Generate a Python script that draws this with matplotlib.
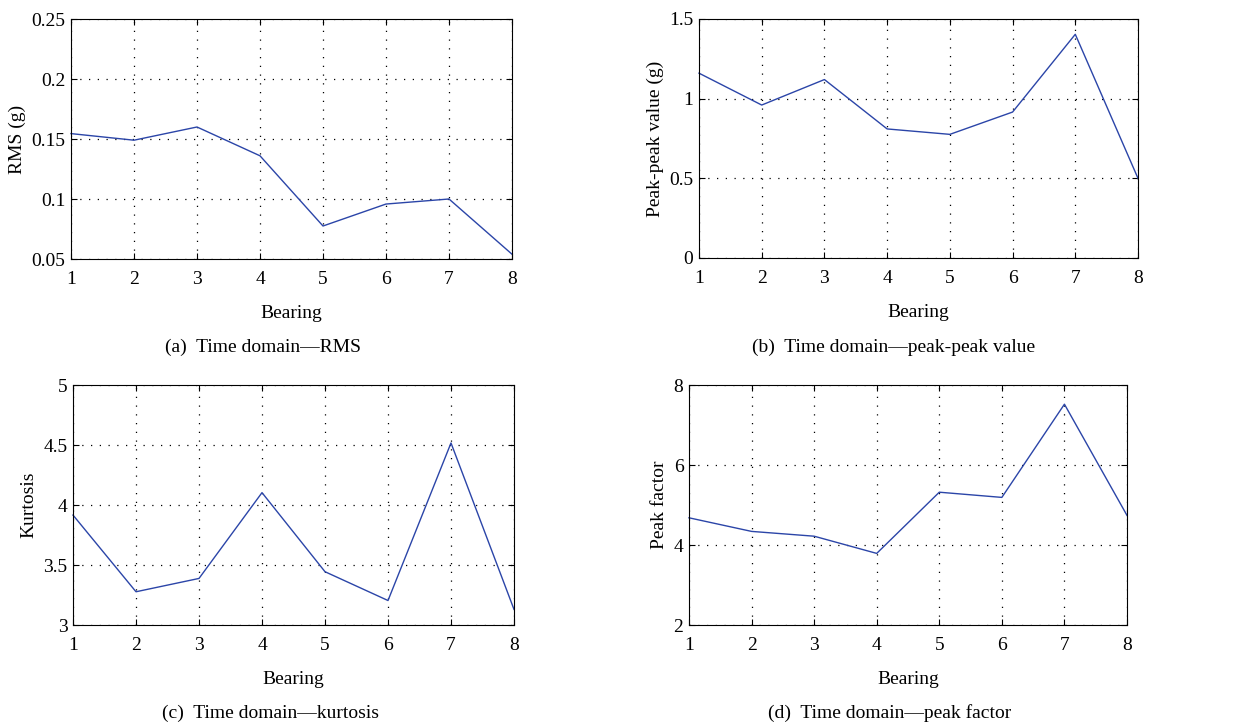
import matplotlib
matplotlib.use('Agg')
import matplotlib.pyplot as plt

bearing = [1, 2, 3, 4, 5, 6, 7, 8]
rms = [0.1545, 0.149, 0.160, 0.136, 0.0775, 0.0958, 0.100, 0.054]
peak_peak = [1.16, 0.96, 1.12, 0.81, 0.776, 0.916, 1.404, 0.50]
kurtosis = [3.916, 3.277, 3.388, 4.103, 3.444, 3.204, 4.517, 3.13]
peak_factor = [4.68, 4.34, 4.22, 3.79, 5.32, 5.19, 7.52, 4.74]

plt.rcParams['font.family'] = ['Liberation Serif', 'DejaVu Serif']
plt.rcParams['font.size'] = 14

W, H = 1257, 726
fig = plt.figure(figsize=(W / 100, H / 100), dpi=100)


def add_axes(left, top, right, bottom):
    return fig.add_axes([left / W, 1 - bottom / H, (right - left) / W, (bottom - top) / H])


panels = [
    # box px, data, ylim, yticks, ylabels, ylabel, caption, caption pos
    ((71, 19, 512, 259), rms, (0.05, 0.25), [0.05, 0.1, 0.15, 0.2, 0.25],
     ['0.05', '0.1', '0.15', '0.2', '0.25'], 'RMS (g)', '(a)  Time domain\u2014RMS', (263, 347)),
    ((699, 19, 1138, 258), peak_peak, (0, 1.5), [0, 0.5, 1, 1.5],
     ['0', '0.5', '1', '1.5'], 'Peak-peak value (g)', '(b)  Time domain\u2014peak-peak value', (894, 347)),
    ((73, 385, 514, 625), kurtosis, (3, 5), [3, 3.5, 4, 4.5, 5],
     ['3', '3.5', '4', '4.5', '5'], 'Kurtosis', '(c)  Time domain\u2014kurtosis', (270, 713)),
    ((689, 385, 1127, 625), peak_factor, (2, 8), [2, 4, 6, 8],
     ['2', '4', '6', '8'], 'Peak factor', '(d)  Time domain\u2014peak factor', (890, 713)),
]

for box, vals, ylim, yt, ytl, ylab, cap, cpos in panels:
    ax = add_axes(*box)
    ax.plot(bearing, vals, color='#2b45a8', linewidth=1.0, clip_on=False)
    ax.set_xlim(1, 8)
    ax.set_ylim(*ylim)
    ax.set_xticks(bearing)
    ax.set_yticks(yt)
    ax.set_yticklabels(ytl)
    ax.grid(True, color='black', linestyle=(0, (1, 6)), linewidth=0.9)
    ax.tick_params(direction='in', top=True, right=True, length=4, width=0.8, labelsize=14)
    ax.tick_params(axis='x', pad=9)
    ax.tick_params(axis='y', pad=4)
    for s in ax.spines.values():
        s.set_linewidth(0.8)
    ax.set_xlabel('Bearing', fontsize=14, labelpad=12)
    ax.set_ylabel(ylab, fontsize=14, labelpad=4)
    fig.text(cpos[0] / W, 1 - cpos[1] / H, cap, ha='center', va='center', fontsize=14)

fig.savefig('out.png', dpi=100)
